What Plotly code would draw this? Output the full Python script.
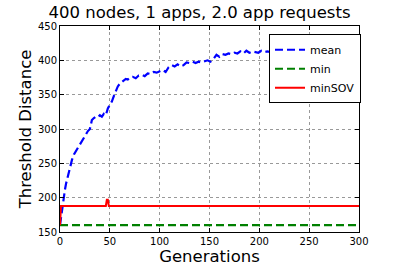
import plotly.graph_objects as go

title_text = "400 nodes, 1 apps, 2.0 app requests"

mean_gens = [0, 1, 2, 3, 4, 5, 6, 7, 8, 10, 12, 14, 16, 18, 20, 22, 24, 26, 28, 30,
             31, 32, 34, 36, 38, 40, 42, 44, 46, 47, 48, 50, 52, 54, 56, 58, 60, 62,
             64, 66, 68, 70, 73, 76, 79, 82, 85, 88, 91, 94, 97, 100, 103, 106, 109,
             112, 115, 118, 121, 124, 127, 130, 133, 136, 139, 142, 145, 148, 151,
             154, 157, 160, 163, 166, 169, 172, 175, 178, 181, 184, 187, 190, 193,
             196, 199, 202, 205, 208, 211, 214, 220, 230, 240, 250, 260, 270, 280,
             290, 295, 297, 300]
mean_vals = [160, 172, 185, 195, 205, 212, 220, 226, 233, 245, 255, 263, 268, 272, 276,
             282, 287, 292, 297, 300, 306, 313, 316, 318, 317, 320, 318, 322, 320, 328,
             330, 335, 340, 348, 355, 362, 366, 368, 371, 373, 372, 375, 376, 374, 378,
             379, 377, 381, 380, 383, 382, 384, 386, 383, 390, 393, 391, 394, 391, 393,
             397, 396, 398, 396, 398, 397, 399, 400, 398, 402, 408, 405, 409, 408, 410,
             409, 411, 410, 413, 410, 414, 411, 413, 412, 411, 414, 412, 413, 412, 415,
             413, 414, 415, 414, 416, 415, 414, 416, 414, 412, 405]

min_gens = [0, 300]
min_vals = [160, 160]

sov_gens = [0, 1, 2, 46, 47, 48, 49, 300]
sov_vals = [160, 188, 188, 188, 197, 197, 188, 188]

fig = go.Figure()
fig.add_trace(go.Scatter(x=mean_gens, y=mean_vals, mode="lines", name="mean",
                         line=dict(color="#0000ff", width=2.2, dash="8px,4px")))
fig.add_trace(go.Scatter(x=min_gens, y=min_vals, mode="lines", name="min",
                         line=dict(color="#008000", width=2.2, dash="8px,4px")))
fig.add_trace(go.Scatter(x=sov_gens, y=sov_vals, mode="lines", name="minSOV",
                         line=dict(color="#ff0000", width=2)))

axis_common = dict(showline=True, linecolor="black", linewidth=1, mirror="ticks",
                   ticks="inside", ticklen=4, tickcolor="black",
                   showgrid=True, gridcolor="#999999", griddash="dot", gridwidth=1,
                   zeroline=False, tickfont=dict(size=10, color="black"),
                   automargin=False)

fig.update_layout(
    width=399, height=266,
    margin=dict(l=60, r=40, t=26, b=34),
    paper_bgcolor="white", plot_bgcolor="white",
    font=dict(family="DejaVu Sans", color="black"),
    title=dict(text=title_text, x=0.5, xanchor="center", y=0.955, yanchor="middle",
               font=dict(size=16.5)),
    xaxis=dict(range=[0, 300], dtick=50, title=dict(text="Generations", font=dict(size=16.5), standoff=0),
               **axis_common),
    yaxis=dict(range=[150, 450], dtick=50, title=dict(text="Threshold Distance", font=dict(size=16.5), standoff=2),
               **axis_common),
    legend=dict(x=0.699, y=0.96, xanchor="left", yanchor="top",
                bgcolor="white", bordercolor="black", borderwidth=1,
                font=dict(size=11), itemwidth=30, tracegroupgap=0),
    showlegend=True,
)

fig.write_html("out.html", config={"displayModeBar": False},
               post_script="document.body.style.margin='0';")
